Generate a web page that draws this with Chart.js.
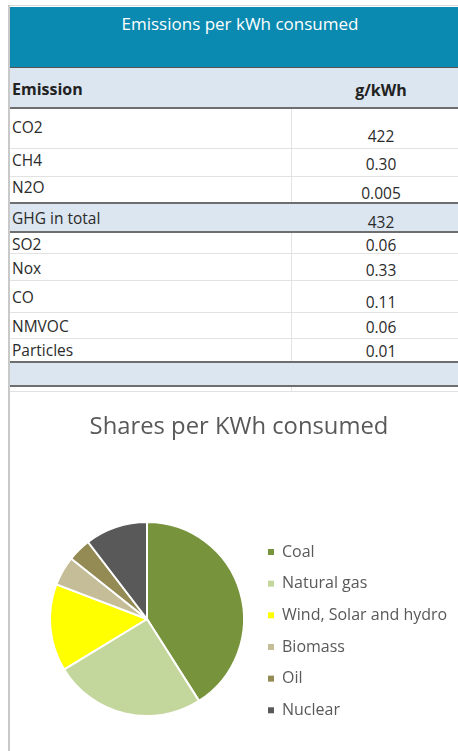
<!DOCTYPE html>
<html>
<head>
<meta charset="utf-8">
<script src="https://cdn.jsdelivr.net/npm/chart.js@4"></script>
<style>
  body {
    margin: 0;
    width: 458px;
    height: 751px;
    overflow: hidden;
    position: relative;
    background: #fff;
    font-family: "Open Sans", sans-serif;
    color: #2b2b2b;
  }
  .abs { position: absolute; }
  .txt { position: absolute; height: 20px; line-height: 20px; white-space: nowrap; font-size: 15.5px; }
  #shares { position: absolute; left: 10px; top: 393px; }
</style>
</head>
<body>
<div id="sheet"></div>
<canvas id="shares" width="448" height="358"></canvas>
<script>
  // table values
  const emissionNames = ["CO2", "CH4", "N2O", "GHG in total", "SO2", "Nox", "CO", "NMVOC", "Particles"];
  const emissionValues = ["422", "0.30", "0.005", "432", "0.06", "0.33", "0.11", "0.06", "0.01"];

  // pie values (%)
  const shareLabels = ["Coal", "Natural gas", "Wind, Solar and hydro", "Biomass", "Oil", "Nuclear"];
  const shareValues = [41, 25.3, 14.5, 4.9, 3.9, 10.4];
  const shareColors = ["#77933c", "#c3d69b", "#ffff00", "#c4bd97", "#948a54", "#595959"];

  // row geometry: top, bottom, label centre, value centre
  const rowLayout = [
    [107, 148, 127, 136],
    [148, 176, 159.5, 164],
    [176, 203, 187, 193],
    [203, 232, 217.5, 222],
    [232, 253, 243.5, 245],
    [253, 280, 268, 269.5],
    [280, 312, 296.5, 302],
    [312, 338, 326, 326.5],
    [338, 362, 350, 351],
  ];

  const sheet = document.getElementById("sheet");

  const box = (x, y, w, h, bg) => {
    const d = document.createElement("div");
    d.className = "abs";
    d.style.cssText = `left:${x}px;top:${y}px;width:${w}px;height:${h}px;background:${bg}`;
    sheet.appendChild(d);
  };

  const text = (str, x, cy, align, extra) => {
    const s = document.createElement("div");
    s.className = "txt";
    s.textContent = str;
    s.style.top = cy - 10 + "px";
    if (align === "center") {
      s.style.left = x - 150 + "px";
      s.style.width = "300px";
      s.style.textAlign = "center";
    } else {
      s.style.left = x + "px";
    }
    if (extra) s.style.cssText += extra;
    sheet.appendChild(s);
  };

  // frame
  box(8, 5, 450, 1, "#d9d9d9");
  box(8, 5, 2, 746, "#c9c9c9");

  // banner
  box(10, 7, 448, 60, "#0a8ab0");
  text("Emissions per kWh consumed", 240, 24, "center", "color:#fff;font-size:17px");

  // header
  box(10, 67, 448, 40, "#dce6f0");
  box(10, 67, 448, 1, "#555");
  text("Emission", 12, 89, "left", "font-weight:bold;font-size:16px;color:#222");
  text("g/kWh", 381, 90, "center", "font-weight:bold;font-size:16px;color:#222");

  // column divider
  box(291, 107, 1, 285, "#e4e4e4");

  rowLayout.forEach(([top, bottom, ly, vy], i) => {
    const strong = emissionNames[i] === "GHG in total";
    if (strong) box(10, top, 448, bottom - top, "#dce6f0");
    text(emissionNames[i], 12, ly, "left");
    text(emissionValues[i], 381, vy, "center");
    if (!strong) box(10, bottom, 448, 1, "#e2e2e2");
  });

  // heavy rules
  [107, 202, 231, 361, 385].forEach((y) => box(10, y, 448, 2, "#6e6e6e"));
  box(10, 363, 448, 22, "#dce6f0");
  box(10, 391, 448, 1, "#e2e2e2");

  const pieLegend = Chart.overrides.doughnut.plugins.legend.labels.generateLabels;

  new Chart(document.getElementById("shares"), {
    type: "pie",
    data: {
      labels: shareLabels,
      datasets: [
        {
          data: shareValues,
          backgroundColor: shareColors,
          borderColor: "#fff",
          borderWidth: 2,
          radius: 97,
          clip: false,
        },
      ],
    },
    options: {
      responsive: false,
      animation: false,
      devicePixelRatio: 1,
      layout: { padding: { left: 18, right: 8, top: 0, bottom: 17.04 } },
      plugins: {
        title: {
          display: true,
          text: "Shares per KWh consumed",
          color: "#595959",
          font: { family: "Open Sans", size: 23.8, weight: "normal" },
          padding: { top: 19.72, bottom: 62.76 },
        },
        legend: {
          position: "right",
          align: "end",
          maxWidth: 184,
          labels: {
            boxWidth: 6,
            boxHeight: 6,
            padding: 2,
            color: "#595959",
            // tall line height gives the row spacing, small padding keeps the box near the pie
            font: { family: "Open Sans", size: 16, lineHeight: 29.66 / 16 },
            generateLabels: (chart) =>
              pieLegend(chart).map((item) => ({ ...item, text: [item.text], lineWidth: 0 })),
          },
        },
        tooltip: { enabled: false },
      },
    },
  });
</script>
</body>
</html>
